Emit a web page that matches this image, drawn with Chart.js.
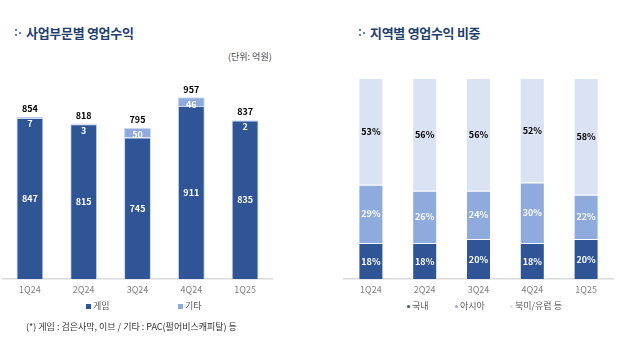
<!DOCTYPE html>
<html>
<head>
<meta charset="utf-8">
<script src="https://cdn.jsdelivr.net/npm/chart.js@4/dist/chart.umd.min.js"></script>
<style>
  body { margin: 0; width: 631px; height: 354px; background: #fff; position: relative; overflow: hidden;
         font-family: "Noto Sans CJK KR", "Noto Sans", sans-serif; }
  .title { position: absolute; top: 23px; font-size: 13px; font-weight: bold; color: #1f3f6e; letter-spacing: -0.3px; }
  .dots { display: inline-block; width: 9px; position: relative; height: 10px; margin-right: 3px; }
  .dots i { position: absolute; width: 2px; height: 2px; background: #2f5597; border-radius: 1px; }
  .note { position: absolute; font-size: 9px; color: #333; }
  .leg { position: absolute; top: 299px; font-size: 9px; color: #595959; }
  .leg span { display: inline-block; vertical-align: middle; margin-right: 2px; }
  canvas { position: absolute; }
</style>
</head>
<body>
<div class="title" style="left:14px"><span class="dots"><i style="left:1px;top:1px"></i><i style="left:1px;top:6px"></i><i style="left:5px;top:4px"></i></span>사업부문별 영업수익</div>
<div class="title" style="left:358px"><span class="dots"><i style="left:1px;top:1px"></i><i style="left:1px;top:6px"></i><i style="left:5px;top:4px"></i></span>지역별 영업수익 비중</div>
<div class="note" style="left:228px;top:50px;color:#404040">(단위: 억원)</div>

<div style="position:absolute;left:0;top:60px;width:290px;height:240px"><canvas id="left-chart"></canvas></div>
<div style="position:absolute;left:335px;top:60px;width:290px;height:240px"><canvas id="right-chart"></canvas></div>

<div class="leg" style="left:86px"><span style="width:5px;height:5px;background:#2f5597"></span>게임</div>
<div class="leg" style="left:178px"><span style="width:5px;height:5px;background:#8faadc"></span>기타</div>
<div class="leg" style="left:407px"><span style="width:3px;height:3px;background:#2f5597;border-radius:2px"></span>국내</div>
<div class="leg" style="left:455px"><span style="width:3px;height:3px;background:#8faadc;border-radius:2px"></span>아시아</div>
<div class="leg" style="left:510px"><span style="width:3px;height:3px;background:#dae3f3;border-radius:2px"></span>북미/유럽 등</div>

<div class="note" style="left:26px;top:320px">(*) 게임 : 검은사막, 이브 / 기타 : PAC(펄어비스캐피탈) 등</div>

<script>
let quarters = ['1Q24', '2Q24', '3Q24', '4Q24', '1Q25'];
let gameProfit = [847, 815, 745, 911, 835];
let otherProfit = [7, 3, 50, 46, 2];
let totalProfit = [854, 818, 795, 957, 837];

let domesticShare = [18, 18, 20, 18, 20];
let asiaShare = [29, 26, 24, 30, 22];
let westShare = [53, 56, 56, 52, 58];

let darkBlue = '#2f5597';
let midBlue = '#8faadc';
let paleBlue = '#dae3f3';
let fontFamily = '"Noto Sans CJK KR", "Noto Sans", sans-serif';

// draws the value labels inside segments and totals on top
let labelPlugin = {
  id: 'segLabels',
  afterDatasetsDraw(chart, args, opts) {
    let ctx = chart.ctx;
    ctx.save();
    ctx.textAlign = 'center';
    ctx.textBaseline = 'middle';
    ctx.font = 'bold 9px ' + fontFamily;
    chart.data.datasets.forEach(function (ds, i) {
      let meta = chart.getDatasetMeta(i);
      meta.data.forEach(function (bar, j) {
        let top = bar.y;
        let bottom = bar.base;
        let y = (top + bottom) / 2;
        if (bottom - top < 10) {
          y = top + 7;
        }
        ctx.fillStyle = ds.labelColor || '#fff';
        ctx.fillText(ds.data[j] + (opts.suffix || ''), bar.x, y);
      });
    });
    if (opts.totals) {
      let last = chart.getDatasetMeta(chart.data.datasets.length - 1);
      ctx.fillStyle = '#000';
      last.data.forEach(function (bar, j) {
        ctx.fillText(opts.totals[j], bar.x, bar.y - 8);
      });
    }
    ctx.restore();
  }
};

function makeScales(max) {
  return {
    x: {
      stacked: true,
      grid: { display: false, drawTicks: false },
      border: { display: true, color: '#d9d9d9', width: 1.5 },
      ticks: { color: '#7f7f7f', padding: 5, font: { size: 9, family: fontFamily } }
    },
    y: { stacked: true, display: false, min: 0, max: max }
  };
}

let leftChart = new Chart(document.getElementById('left-chart'), {
  type: 'bar',
  data: {
    labels: quarters,
    datasets: [{
      label: '게임',
      data: gameProfit,
      backgroundColor: darkBlue,
      borderColor: '#c9d6ee',
      borderWidth: 1,
      borderSkipped: 'bottom'
    }, {
      label: '기타',
      data: otherProfit,
      backgroundColor: midBlue,
      borderColor: '#c9d6ee',
      borderWidth: 1,
      borderSkipped: 'bottom'
    }]
  },
  options: {
    responsive: true,
    maintainAspectRatio: false,
    animation: false,
    categoryPercentage: 1,
    barPercentage: 0.5,
    layout: { padding: { left: 3, right: 18, top: 29, bottom: 0 } },
    plugins: {
      legend: { display: false },
      tooltip: { enabled: false },
      segLabels: { totals: totalProfit }
    },
    scales: makeScales(1000)
  },
  plugins: [labelPlugin]
});

let rightChart = new Chart(document.getElementById('right-chart'), {
  type: 'bar',
  data: {
    labels: quarters,
    datasets: [{
      label: '국내',
      data: domesticShare,
      backgroundColor: darkBlue,
      borderColor: '#fff',
      borderWidth: 1,
      borderSkipped: 'bottom'
    }, {
      label: '아시아',
      data: asiaShare,
      backgroundColor: midBlue,
      borderColor: '#fff',
      borderWidth: 1,
      borderSkipped: 'bottom'
    }, {
      label: '북미/유럽 등',
      data: westShare,
      backgroundColor: paleBlue,
      borderColor: '#fff',
      borderWidth: 1,
      borderSkipped: 'bottom',
      labelColor: '#000'
    }]
  },
  options: {
    responsive: true,
    maintainAspectRatio: false,
    animation: false,
    categoryPercentage: 1,
    barPercentage: 0.465,
    layout: { padding: { left: 9, right: 12, top: 18, bottom: 0 } },
    plugins: {
      legend: { display: false },
      tooltip: { enabled: false },
      segLabels: { suffix: '%' }
    },
    scales: makeScales(100)
  },
  plugins: [labelPlugin]
});
</script>
</body>
</html>
